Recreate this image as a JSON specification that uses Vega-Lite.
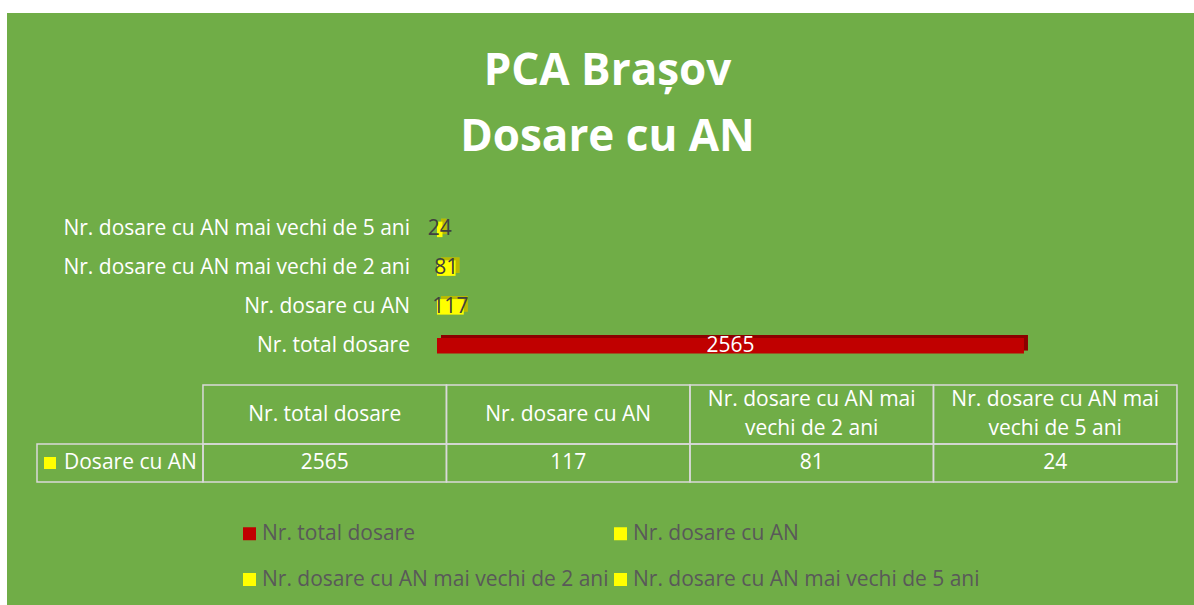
{
  "$schema": "https://vega.github.io/schema/vega-lite/v6.json",
  "background": "white",
  "padding": {"left": 7, "top": 13, "right": 0, "bottom": 0},
  "spacing": 0,
  "config": {
    "view": {"stroke": null, "fill": "#70AD47"},
    "font": "Open Sans",
    "concat": {"spacing": 0}
  },
  "datasets": {
    "counts": [
      {"category": "Nr. total dosare", "value": 2565},
      {"category": "Nr. dosare cu AN", "value": 117},
      {"category": "Nr. dosare cu AN mai vechi de 2 ani", "value": 81},
      {"category": "Nr. dosare cu AN mai vechi de 5 ani", "value": 24}
    ],
    "titles": [{"line": "PCA Brașov"}, {"line": "Dosare cu AN"}],
    "series": [{"series": "Dosare cu AN"}]
  },
  "vconcat": [
    {
      "width": 1187,
      "height": 197,
      "data": {"name": "titles"},
      "mark": {"type": "text", "fontSize": 44, "fontWeight": "bold", "color": "white", "baseline": "alphabetic", "align": "center", "dx": 7},
      "encoding": {
        "y": {"field": "line", "type": "nominal", "sort": null, "axis": null, "scale": {"type": "point", "padding": 1, "align": 0.55}},
        "text": {"field": "line"}
      }
    },
    {
      "width": 1187,
      "height": 155,
      "data": {"name": "counts"},
      "encoding": {
        "y": {
          "field": "category", "type": "nominal", "axis": null,
          "sort": ["Nr. dosare cu AN mai vechi de 5 ani", "Nr. dosare cu AN mai vechi de 2 ani", "Nr. dosare cu AN", "Nr. total dosare"],
          "scale": {"type": "band", "paddingInner": 0.6, "paddingOuter": 0.3}
        }
      },
      "layer": [
        {
          "mark": {"type": "bar", "xOffset": 4, "yOffset": -3},
          "encoding": {
            "x": {"field": "value", "type": "quantitative", "axis": null, "scale": {"domain": [-1879, 3308], "nice": false}},
            "color": {
              "field": "category", "type": "nominal",
              "scale": {"domain": ["Nr. total dosare", "Nr. dosare cu AN", "Nr. dosare cu AN mai vechi de 2 ani", "Nr. dosare cu AN mai vechi de 5 ani"], "range": ["#C00000", "#FFFF00", "#FFFF00", "#FFFF00"]},
              "legend": {
                "title": null, "orient": "none", "legendX": 232, "legendY": 510,
                "values": ["Nr. total dosare", "Nr. dosare cu AN mai vechi de 2 ani", "Nr. dosare cu AN", "Nr. dosare cu AN mai vechi de 5 ani"],
                "columns": 2, "symbolType": "square", "symbolSize": 169, "symbolStrokeWidth": 0, "symbolOpacity": 1,
                "labelFontSize": 21, "labelColor": "#595959", "labelLimit": 600, "labelFont": "Open Sans",
                "rowPadding": 24, "columnPadding": 1, "labelOffset": 2
              }
            }
          }
        },
        {
          "mark": {"type": "bar", "xOffset": 4, "yOffset": -3, "color": "black", "opacity": 0.27},
          "encoding": {
            "x": {"field": "value", "type": "quantitative", "axis": null, "scale": {"domain": [-1879, 3308], "nice": false}}
          }
        },
        {
          "mark": {"type": "bar"},
          "encoding": {
            "x": {"field": "value", "type": "quantitative", "axis": null, "scale": {"domain": [-1879, 3308], "nice": false}},
            "color": {"field": "category", "type": "nominal"}
          }
        },
        {
          "mark": {"type": "text", "align": "right", "baseline": "middle", "dx": -27, "fontSize": 21, "color": "white"},
          "encoding": {
            "x": {"datum": 0, "type": "quantitative", "axis": null, "scale": {"domain": [-1879, 3308], "nice": false}},
            "text": {"field": "category"}
          }
        },
        {
          "mark": {"type": "text", "align": "center", "baseline": "middle", "fontSize": 21},
          "encoding": {
            "x": {"field": "value", "type": "quantitative", "axis": null, "scale": {"domain": [-3758, 6616], "nice": false}},
            "text": {"field": "value"},
            "color": {"condition": {"test": "datum.value > 1000", "value": "white"}, "value": "#404040"}
          }
        }
      ],
      "resolve": {"scale": {"x": "independent"}}
    },
    {
      "width": 1187,
      "height": 240,
      "layer": [
        {
          "data": {"name": "counts"},
          "transform": [{"calculate": "replace(datum.category, ' vechi', '\\nvechi')", "as": "header"}],
          "encoding": {
            "x": {"field": "category", "type": "nominal", "axis": null, "sort": ["Nr. total dosare", "Nr. dosare cu AN", "Nr. dosare cu AN mai vechi de 2 ani", "Nr. dosare cu AN mai vechi de 5 ani"], "scale": {"type": "band", "paddingInner": 0, "paddingOuter": 0.4374, "align": 0.92}},
            "y": {"datum": "header", "type": "nominal", "axis": null, "scale": {"type": "band", "paddingInner": 0.34807, "paddingOuter": 1, "align": 0.1105}}
          },
          "layer": [
            {"mark": {"type": "rect", "fillOpacity": 0, "stroke": "#D9D9D9", "strokeWidth": 1.5}},
            {
              "transform": [{"filter": "indexof(datum.category, 'vechi') < 0"}],
              "mark": {"type": "text", "color": "white", "fontSize": 21, "baseline": "middle"},
              "encoding": {"text": {"field": "header"}}
            },
            {
              "transform": [{"filter": "indexof(datum.category, 'vechi') >= 0"}],
              "mark": {"type": "text", "color": "white", "fontSize": 21, "lineBreak": "\n", "lineHeight": 29, "baseline": "middle", "dy": -14.5},
              "encoding": {"text": {"field": "header"}}
            }
          ]
        },
        {
          "data": {"name": "counts"},
          "encoding": {
            "x": {"field": "category", "type": "nominal", "axis": null, "sort": ["Nr. total dosare", "Nr. dosare cu AN", "Nr. dosare cu AN mai vechi de 2 ani", "Nr. dosare cu AN mai vechi de 5 ani"], "scale": {"type": "band", "paddingInner": 0, "paddingOuter": 0.4374, "align": 0.92}},
            "y": {"datum": "values", "type": "nominal", "axis": null, "scale": {"type": "band", "paddingInner": 0.62376, "paddingOuter": 1, "align": 0.3911}}
          },
          "layer": [
            {"mark": {"type": "rect", "fillOpacity": 0, "stroke": "#D9D9D9", "strokeWidth": 1.5}},
            {"mark": {"type": "text", "color": "white", "fontSize": 21, "baseline": "middle"}, "encoding": {"text": {"field": "value"}}}
          ]
        },
        {
          "data": {"name": "series"},
          "encoding": {
            "x": {"field": "series", "type": "nominal", "axis": null, "scale": {"type": "band", "paddingInner": 0.6748, "paddingOuter": 1, "align": 0.02938}},
            "y": {"datum": "values", "type": "nominal", "axis": null, "scale": {"type": "band", "paddingInner": 0.62376, "paddingOuter": 1, "align": 0.3911}}
          },
          "layer": [
            {"mark": {"type": "rect", "fillOpacity": 0, "stroke": "#D9D9D9", "strokeWidth": 1.5}},
            {"mark": {"type": "point", "shape": "square", "filled": true, "color": "#FFFF00", "opacity": 1, "size": 144, "xOffset": -70}},
            {"mark": {"type": "text", "align": "left", "baseline": "middle", "dx": -56, "color": "white", "fontSize": 21}, "encoding": {"text": {"field": "series"}}}
          ]
        }
      ],
      "resolve": {"scale": {"x": "independent", "y": "independent"}}
    }
  ]
}
